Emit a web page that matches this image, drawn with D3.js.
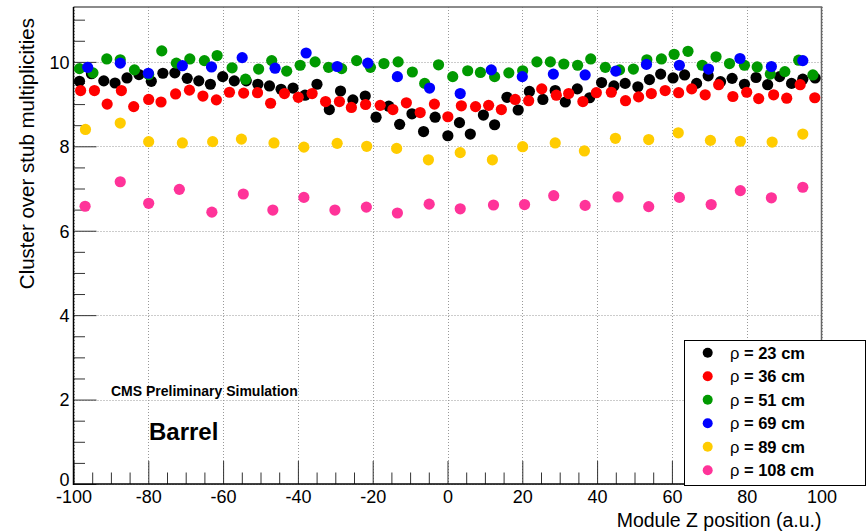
<!DOCTYPE html>
<html><head><meta charset="utf-8">
<script src="https://cdn.jsdelivr.net/npm/d3@7"></script>
<style>
html,body{margin:0;padding:0;background:#fff;}
svg{display:block;font-family:"Liberation Sans",Arial,Helvetica,sans-serif;}
</style></head><body>
<svg id="c" width="868" height="532"></svg>
<script>
// ---- data ----
const seriesLabels = ["23", "36", "51", "69", "89", "108"];
const seriesColors = ["#000000", "#ff0000", "#009900", "#0000ff", "#ffcc00", "#ff3399"];

const x23 = [-98.4,-95.2,-91.9,-88.9,-85.7,-82.5,-79.2,-76.1,-72.9,-69.6,-66.5,-63.4,-60.1,-57.0,-53.8,-50.7,-47.6,-44.5,-41.3,-38.1,-34.9,-31.6,-28.6,-25.3,-22.0,-19.1,-15.7,-12.8,-9.5,-6.4,-3.3,0.1,3.2,6.1,9.6,12.6,15.9,18.9,21.9,25.5,28.8,31.5,34.7,38.0,41.2,44.5,47.5,50.9,54.0,57.0,60.3,63.4,66.6,69.7,73.0,76.1,79.4,82.5,85.6,88.8,92.0,95.0,98.3];
const y23 = [9.54,9.72,9.55,9.50,9.62,9.70,9.54,9.73,9.74,9.61,9.55,9.47,9.65,9.55,9.55,9.47,9.43,9.35,9.38,9.21,9.47,8.87,9.31,9.10,9.19,8.69,8.95,8.52,8.77,8.35,8.69,8.25,8.56,8.29,8.74,8.51,9.16,8.86,9.30,9.11,9.32,9.05,9.36,9.15,9.51,9.43,9.49,9.41,9.58,9.71,9.62,9.69,9.49,9.67,9.53,9.61,9.47,9.63,9.46,9.65,9.49,9.59,9.62];

const x36 = [-98.1,-94.4,-91.0,-87.2,-83.9,-79.9,-76.6,-72.7,-69.0,-65.4,-61.8,-58.3,-54.5,-50.8,-47.3,-43.6,-39.9,-36.2,-32.6,-28.9,-25.7,-21.9,-18.0,-14.6,-11.0,-7.3,-3.5,0.1,3.7,7.5,11.0,14.4,18.1,21.7,25.2,29.1,32.4,36.2,39.8,43.8,47.6,51.1,54.5,58.2,61.8,65.3,68.9,72.5,76.3,80.0,83.2,87.2,90.7,94.3,98.2];
const y36 = [9.32,9.32,9.00,9.32,8.94,9.11,9.05,9.24,9.33,9.19,9.10,9.28,9.26,9.27,9.02,9.25,9.16,9.25,9.06,9.06,8.92,8.99,8.97,8.87,9.03,8.80,9.00,8.70,8.96,8.94,8.97,8.87,9.11,9.08,9.36,9.21,9.25,9.06,9.27,9.28,9.08,9.17,9.25,9.32,9.27,9.36,9.22,9.46,9.18,9.28,9.13,9.22,9.14,9.46,9.15];

const x51 = [-98.4,-94.8,-91.1,-87.5,-83.7,-79.9,-76.4,-72.5,-68.9,-65.0,-61.6,-57.6,-54.0,-50.5,-47.0,-43.0,-39.4,-35.4,-31.8,-28.3,-24.3,-20.6,-17.0,-13.2,-9.4,-6.1,-2.4,1.4,5.4,8.8,12.6,16.4,20.1,23.9,27.5,31.1,34.8,38.3,42.2,46.0,49.7,53.3,57.2,60.6,64.3,68.1,71.8,75.4,79.4,82.8,86.3,90.2,93.9,97.7];
const y51 = [9.84,9.74,10.07,10.05,9.81,9.70,10.26,9.97,10.07,10.03,10.15,9.86,9.59,9.83,10.03,9.78,9.92,10.00,9.87,9.84,10.03,9.87,9.96,10.00,9.76,9.49,9.93,9.65,9.79,9.75,9.65,9.74,9.79,10.00,10.00,9.95,9.92,10.07,9.87,9.81,9.83,10.05,10.07,10.18,10.25,9.92,10.12,9.96,9.92,9.88,9.71,9.77,10.04,9.69];

const x69 = [-96.2,-87.5,-80.0,-70.9,-63.1,-54.9,-46.1,-37.8,-29.5,-21.3,-13.4,-4.8,3.4,11.7,20.0,28.3,36.8,45.0,53.2,62.0,69.8,78.2,86.6,95.0];
const y69 = [9.87,9.97,9.73,9.91,9.88,10.10,9.85,10.21,9.89,9.97,9.65,9.38,9.25,9.81,9.65,9.71,9.69,9.78,9.94,9.92,9.83,10.08,9.89,10.03];

const x89 = [-96.8,-87.5,-79.9,-70.9,-62.8,-55.1,-46.4,-38.4,-29.5,-21.6,-13.6,-5.1,3.4,12.0,20.1,28.8,36.6,44.9,53.8,61.7,70.3,78.3,86.8,95.0];
const y89 = [8.40,8.55,8.11,8.08,8.11,8.17,8.08,7.98,8.07,8.00,7.95,7.68,7.85,7.68,7.99,8.08,7.89,8.19,8.16,8.32,8.14,8.12,8.10,8.29];

const x108 = [-96.9,-87.5,-79.9,-71.7,-63.0,-54.6,-46.7,-38.4,-30.1,-21.7,-13.4,-4.9,3.4,12.3,20.6,28.4,36.8,45.6,53.8,62.0,70.5,78.3,86.6,95.0];
const y108 = [6.58,7.16,6.65,6.98,6.44,6.87,6.49,6.79,6.49,6.56,6.42,6.63,6.52,6.61,6.62,6.83,6.60,6.80,6.57,6.79,6.62,6.95,6.78,7.03];

const xTicks = [-100,-80,-60,-40,-20,0,20,40,60,80,100];
const yTicks = [0,2,4,6,8,10];

const xTitle = "Module Z position (a.u.)";
const yTitle = "Cluster over stub multiplicities";
const label1 = "CMS Preliminary Simulation";
const label2 = "Barrel";

// ---- chart ----
const svg = d3.select("#c");
const L = 73.5, R = 821.5, T = 7, B = 484;
const x = d3.scaleLinear().domain([-100, 100]).range([L, R]);
const y = d3.scaleLinear().domain([0, 11.3]).range([B, T]);

// grid
const grid = svg.append("g").attr("stroke", "#999").attr("stroke-width", 1).attr("stroke-dasharray", "1,2");
xTicks.forEach(t => grid.append("line").attr("x1", Math.round(x(t)) + 0.5).attr("x2", Math.round(x(t)) + 0.5).attr("y1", T).attr("y2", B));
yTicks.forEach(t => grid.append("line").attr("x1", L).attr("x2", R).attr("y1", Math.round(y(t)) + 0.5).attr("y2", Math.round(y(t)) + 0.5));

// frame top/right
svg.append("path").attr("d", `M${L},${T}H${R}V${B}`).attr("fill", "none").attr("stroke", "#666").attr("stroke-width", 1.5);

// axes
const yAxis = d3.axisRight(y).tickValues(d3.range(0, 11.01, 0.5)).tickSize(0).tickFormat("");
const yg = svg.append("g").attr("transform", `translate(${L},0)`).call(yAxis);
yg.select(".domain").remove();
yg.selectAll(".tick line").attr("x2", d => (Math.abs(d % 2) < 1e-6 ? 23 : 11.5)).attr("stroke", "#333");
yg.selectAll(".tick").filter(d => Math.abs(d % 2) < 1e-6 && d <= 10).append("text")
  .attr("x", -4).attr("dy", d => d === 0 ? "0.1em" : "0.35em").attr("text-anchor", "end").attr("fill", "#000")
  .attr("font-size", 18).text(d => d);

const xAxis = d3.axisTop(x).tickValues(d3.range(-100, 100.1, 5)).tickSize(0).tickFormat("");
const xg = svg.append("g").attr("transform", `translate(0,${B})`).call(xAxis);
xg.select(".domain").remove();
xg.selectAll(".tick line").attr("y2", d => (Math.abs(d % 20) < 1e-6 ? -23 : -11.5)).attr("stroke", "#333");
xg.selectAll(".tick").filter(d => Math.abs(d % 20) < 1e-6).append("text")
  .attr("y", 19).attr("text-anchor", "middle").attr("fill", "#000")
  .attr("font-size", 18).text(d => d);

svg.append("line").attr("x1", L).attr("x2", L).attr("y1", T).attr("y2", B + 1).attr("stroke", "#000").attr("stroke-width", 1.5);
svg.append("line").attr("x1", L).attr("x2", R).attr("y1", B).attr("y2", B).attr("stroke", "#000").attr("stroke-width", 1.5);

// titles
svg.append("text").attr("x", R).attr("y", 527).attr("text-anchor", "end").attr("font-size", 19.5).text(xTitle);
svg.append("text").attr("transform", "translate(34,18) rotate(-90)").attr("text-anchor", "end").attr("font-size", 20.5).text(yTitle);

svg.append("text").attr("x", 111).attr("y", 396).attr("font-size", 14).attr("font-weight", "bold").text(label1);
svg.append("text").attr("x", 149).attr("y", 440).attr("font-size", 24).attr("font-weight", "bold").text(label2);

// points
const allX = [x23, x36, x51, x69, x89, x108];
const allY = [y23, y36, y51, y69, y89, y108];
allX.forEach((xs, i) => {
  const pts = xs.map((v, j) => [v, allY[i][j]]);
  svg.append("g").selectAll("circle").data(pts).join("circle")
    .attr("cx", d => x(d[0])).attr("cy", d => y(d[1])).attr("r", 5.6)
    .attr("fill", seriesColors[i]);
});

// legend
const lg = svg.append("g");
lg.append("rect").attr("x", 684.5).attr("y", 340.5).attr("width", 181).attr("height", 145)
  .attr("fill", "#fff").attr("stroke", "#000").attr("stroke-width", 1);
seriesLabels.forEach((s, i) => {
  const cy = 352.7 + i * 23.5;
  lg.append("circle").attr("cx", 707.7).attr("cy", cy).attr("r", 5).attr("fill", seriesColors[i]);
  const t = lg.append("text").attr("x", 730).attr("y", cy + 6).attr("font-size", 16.5).attr("font-weight", "bold");
  t.append("tspan").attr("font-weight", "normal").text("\u03c1");
  t.append("tspan").text(" = " + s + " cm");
});
</script>
</body></html>
